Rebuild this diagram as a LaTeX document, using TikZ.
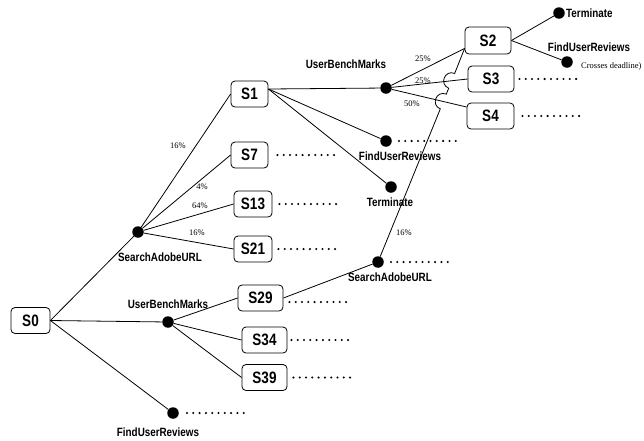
\documentclass[tikz,border=0pt]{standalone}
\usepackage{fontspec}
\setmainfont{Liberation Serif}
\newfontfamily\nsans[FakeStretch=0.82]{Liberation Sans}
\usetikzlibrary{calc}
\begin{document}
\begin{tikzpicture}[x=1pt,y=-1pt,
  st/.style={draw, rounded corners=4pt, line width=0.8pt, minimum height=26pt, inner sep=0pt, font=\nsans\bfseries\fontsize{16.5}{18}\selectfont},
  act/.style={circle, fill=black, inner sep=0pt, minimum size=11.5pt},
  lab/.style={font=\nsans\bfseries\fontsize{12}{13}\selectfont, inner sep=0pt},
  pct/.style={font=\fontsize{8.5}{9}\selectfont, inner sep=0pt},
  conn/.style={line width=0.8pt},
  lead/.style={line width=2.3pt, line cap=round, dash pattern=on 0pt off 6.3pt}
]
\useasboundingbox (0,0) rectangle (644,440);

% state boxes
\node[st, minimum width=39pt] (s0) at (30.5,320.5) {S0};
\node[st, minimum width=37pt] (s1) at (249.5,94) {S1};
\node[st, minimum width=37pt] (s7) at (249.5,155) {S7};
\node[st, minimum width=38pt] (s13) at (253,204) {S13};
\node[st, minimum width=38pt] (s21) at (253,249) {S21};
\node[st, minimum width=45pt] (s29) at (260.5,298) {S29};
\node[st, minimum width=45pt] (s34) at (264.5,340) {S34};
\node[st, minimum width=45pt] (s39) at (264.5,377.5) {S39};
\node[st, minimum width=46pt, minimum height=27pt] (s2) at (488,40.5) {S2};
\node[st, minimum width=46pt] (s3) at (491,79) {S3};
\node[st, minimum width=47pt] (s4) at (490.5,116) {S4};

% action dots
\node[act] (sa1) at (138,232) {};
\node[act] (ub0) at (168,322) {};
\node[act] (fr0) at (173,413) {};
\node[act] (ub1) at (386,88) {};
\node[act] (fr1) at (386,141) {};
\node[act] (te1) at (391,187) {};
\node[act] (sa2) at (378,262) {};
\node[act] (te2) at (559,13) {};
\node[act] (fr2) at (567,62) {};

% action labels
\node[lab] (lsa1) at (160,257) {SearchAdobeURL};
\node[lab] (lub0) at (168,304) {UserBenchMarks};
\node[lab] (lfr0) at (158,432) {FindUserReviews};
\node[lab] (lub1) at (346,64) {UserBenchMarks};
\node[lab] (lfr1) at (400,156) {FindUserReviews};
\node[lab] (lte1) at (390,202) {Terminate};
\node[lab] (lsa2) at (390,277) {SearchAdobeURL};
\node[lab, anchor=west] (lte2) at (566,13) {Terminate};
\node[lab] (lfr2) at (589,47) {FindUserReviews};
\node[pct, anchor=west] (cd) at (581,66) {Crosses deadline)};

% percentages
\node[pct] (p1) at (178,146) {16\%};
\node[pct] (p2) at (202,187) {4\%};
\node[pct] (p3) at (200,206) {64\%};
\node[pct] (p4) at (197,233) {16\%};
\node[pct] (p5) at (423,59) {25\%};
\node[pct] (p6) at (423,81) {25\%};
\node[pct] (p7) at (412,104) {50\%};
\node[pct] (p8) at (404,233) {16\%};

% connectors
\draw[conn] (s0.east) -- (sa1);
\draw[conn] (s0.east) -- (ub0);
\draw[conn] (s0.east) -- (fr0);
\draw[conn] (sa1) -- (s1.west);
\draw[conn] (sa1) -- (s7.west);
\draw[conn] (sa1) -- (s13.west);
\draw[conn] (sa1) -- (s21.west);
\draw[conn] ([yshift=5pt]s1.east) -- (ub1);
\draw[conn] ([yshift=5pt]s1.east) -- (fr1);
\draw[conn] ([yshift=5pt]s1.east) -- (te1);
\draw[conn] (ub1) -- ([yshift=6pt]s2.south west);
\draw[conn] (ub1) -- (s3.west);
\draw[conn] (ub1) -- ([yshift=9pt]s4.west);
\draw[conn] (s2.east) -- (te2);
\draw[conn] (s2.east) -- (fr2);
\draw[conn] (ub0) -- (s29.west);
\draw[conn] (ub0) -- (s34.west);
\draw[conn] (ub0) -- (s39.west);
\draw[conn] (s29.east) -- (sa2);
\draw[conn] (sa2) -- (440.3,108.9) .. controls (430.4,104.9) and (436.4,90.1) .. (446.3,94.1)
  -- (448.7,88.2) .. controls (438.8,84.2) and (444.8,69.4) .. (454.7,73.4)
  -- ([yshift=6pt]s2.south west);

% dotted continuations
\draw[lead] ([xshift=9pt]s7.east) -- ++(57,0);
\draw[lead] ([xshift=7pt]s13.east) -- ++(57,0);
\draw[lead] ([xshift=6pt]s21.east) -- ++(57,0);
\draw[lead] ([xshift=6pt,yshift=-4pt]s29.east) -- ++(57,0);
\draw[lead] ([xshift=4pt]s34.east) -- ++(57,0);
\draw[lead] ([xshift=6pt]s39.east) -- ++(57,0);
\draw[lead] ([xshift=5pt]s3.east) -- ++(57,0);
\draw[lead] ([xshift=8pt]s4.east) -- ++(57,0);
\draw[lead] ([xshift=13pt]sa2.center) -- ++(57,0);
\draw[lead] ([xshift=13pt]fr1.center) -- ++(57,0);
\draw[lead] ([xshift=14pt]fr0.center) -- ++(57,0);
\end{tikzpicture}
\end{document}
